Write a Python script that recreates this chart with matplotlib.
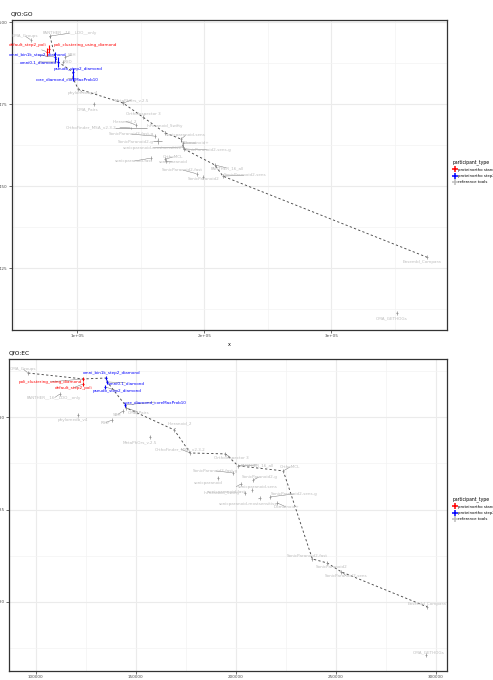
import matplotlib
matplotlib.use("Agg")
import matplotlib.pyplot as plt
from matplotlib.lines import Line2D
from matplotlib.ticker import MultipleLocator, FuncFormatter, FormatStrFormatter
import numpy as np

# ---------------- QfO:GO ----------------
go_names = [
    "OMA_Groups", "PANTHER__16__LDO__only", "default_step2_poli", "poli_clustering_using_diamond",
    "omni_bin1k_step2_diamond", "omni0.1_diamond", "SBH", "RSD", "pseudo_step2_diamond",
    "core_diamond_coreMaxProb10", "phylomedb_v4", "OMA_Pairs", "MetaPhOrs_v.2.5", "OrthoInspector 3",
    "Hieranoid_2", "OrthoFinder_MSA_v2.3.2", "InParanoid_Swifty", "SonicParanoid2-fast-g",
    "SonicParanoid2-g", "sonicparanoid-sens", "Domainoid+", "sonicparanoid-mostsensitive",
    "SonicParanoid2-sens-g", "OrthoMCL", "sonicparanoid", "sonicparanoid-fast", "PANTHER_16_all",
    "SonicParanoid2-fast", "SonicParanoid2", "SonicParanoid2-sens", "Ensembl_Compara", "OMA_GETHOGs",
]
go_x = [63500, 78500, 76100, 77700, 82400, 84800, 90300, 88700, 96600, 96600, 100600, 113100,
        136000, 151700, 146200, 142300, 169100, 161200, 163500, 181700, 183200, 183500, 184000,
        169100, 169800, 158000, 208400, 194300, 199000, 214700, 375400, 351700]
go_y = [0.4946, 0.4958, 0.4910, 0.4919, 0.4894, 0.4879, 0.4894, 0.4879, 0.4849, 0.4830, 0.4797,
        0.4751, 0.4754, 0.4711, 0.4687, 0.4678, 0.4663, 0.4653, 0.4638, 0.4644, 0.4632, 0.4620,
        0.4614, 0.4583, 0.4577, 0.4586, 0.4565, 0.4538, 0.4528, 0.4531, 0.4284, 0.4114]
go_xerr = [800, 800, 600, 600, 600, 600, 800, 800, 600, 600, 800, 800, 800, 800, 800, 12600, 800,
           800, 3500, 800, 800, 800, 800, 800, 800, 800, 800, 800, 800, 800, 800, 800]
go_yerr = [0.0006, 0.0006, 0.0013, 0.0012, 0.0014, 0.0014, 0.0006, 0.0006, 0.0012, 0.0010, 0.0006,
           0.0006, 0.0006, 0.0006, 0.0006, 0.0004, 0.0006, 0.0006, 0.0008, 0.0006, 0.0006, 0.0006,
           0.0006, 0.0006, 0.0006, 0.0006, 0.0006, 0.0006, 0.0006, 0.0006, 0.0006, 0.0006]
go_frontier = ["PANTHER__16__LDO__only", "omni_bin1k_step2_diamond", "omni0.1_diamond",
               "pseudo_step2_diamond", "core_diamond_coreMaxProb10", "phylomedb_v4", "MetaPhOrs_v.2.5",
               "OrthoInspector 3", "InParanoid_Swifty", "sonicparanoid-sens", "SonicParanoid2-sens-g",
               "PANTHER_16_all", "SonicParanoid2-sens", "Ensembl_Compara"]

# ---------------- QfO:EC ----------------
ec_names = [
    "OMA_Groups", "poli_clustering_using_diamond", "default_step2_poli", "omni_bin1k_step2_diamond",
    "omni0.1_diamond", "pseudo_step2_diamond", "core_diamond_coreMaxProb10", "PANTHER__16__LDO__only",
    "phylomedb_v4", "SBH", "RSD", "OMA_Pairs", "Hieranoid_2", "MetaPhOrs_v.2.5",
    "OrthoFinder_MSA_v2.3.2", "OrthoInspector 3", "PANTHER_16_all", "OrthoMCL",
    "SonicParanoid2-fast-g", "sonicparanoid", "SonicParanoid2-g", "sonicparanoid-fast",
    "sonicparanoid-sens", "InParanoid_Swifty", "SonicParanoid2-sens-g", "sonicparanoid-mostsensitive",
    "Domainoid+", "SonicParanoid2-fast", "SonicParanoid2", "SonicParanoid2-sens", "Ensembl_Compara",
    "OMA_GETHOGs",
]
ec_x = [96200, 123700, 123700, 135200, 135700, 134700, 144700, 112200, 121200, 143700, 138200,
        145200, 169200, 157200, 177200, 194700, 201200, 223700, 198700, 191200, 208700, 202700,
        208200, 204700, 217200, 212200, 220700, 238200, 245700, 252700, 295700, 295200]
ec_y = [0.9240, 0.9208, 0.9181, 0.9213, 0.9192, 0.9165, 0.9067, 0.9127, 0.9013, 0.9035, 0.8986,
        0.9051, 0.8932, 0.8894, 0.8807, 0.8802, 0.8737, 0.8710, 0.8699, 0.8672, 0.8661, 0.8640,
        0.8607, 0.8590, 0.8569, 0.8563, 0.8536, 0.8233, 0.8211, 0.8163, 0.7973, 0.7713]
ec_xerr = [500] * len(ec_names)
ec_yerr = [0.0010] * len(ec_names)
ec_frontier = ["OMA_Groups", "poli_clustering_using_diamond", "omni_bin1k_step2_diamond",
               "omni0.1_diamond", "core_diamond_coreMaxProb10", "OMA_Pairs", "Hieranoid_2",
               "OrthoFinder_MSA_v2.3.2", "OrthoInspector 3", "PANTHER_16_all", "OrthoMCL",
               "SonicParanoid2-fast", "SonicParanoid2", "SonicParanoid2-sens", "Ensembl_Compara"]

participant_types = ["proteinortho standard", "proteinortho step2", "reference tools"]
type_of = {
    "default_step2_poli": 0, "poli_clustering_using_diamond": 0,
    "omni_bin1k_step2_diamond": 1, "omni0.1_diamond": 1, "pseudo_step2_diamond": 1,
    "core_diamond_coreMaxProb10": 1,
}

# label offsets from each point (pixels, y downward)
go_label_off = {
    "OMA_Groups": (-6, -4), "PANTHER__16__LDO__only": (20, -3), "default_step2_poli": (-19, -7),
    "poli_clustering_using_diamond": (36, -4), "omni_bin1k_step2_diamond": (-17, -2),
    "omni0.1_diamond": (-20, 0), "SBH": (7, -2), "RSD": (5, 0), "pseudo_step2_diamond": (5, -3),
    "core_diamond_coreMaxProb10": (-6, 1), "phylomedb_v4": (5, 4), "OMA_Pairs": (-6, 5),
    "MetaPhOrs_v.2.5": (9, -3), "OrthoInspector 3": (0, -3), "Hieranoid_2": (-11, -4),
    "OrthoFinder_MSA_v2.3.2": (-40, -1), "InParanoid_Swifty": (0, -7),
    "SonicParanoid2-fast-g": (-24, -2), "SonicParanoid2-g": (-22, 1), "sonicparanoid-sens": (5, -4),
    "Domainoid+": (14, 0), "sonicparanoid-mostsensitive": (-31, 1), "SonicParanoid2-sens-g": (24, 1),
    "OrthoMCL": (8, -2), "sonicparanoid": (7, 1), "sonicparanoid-fast": (-17, 3),
    "PANTHER_16_all": (12, 3), "SonicParanoid2-fast": (-15, -4), "SonicParanoid2": (1, 2),
    "SonicParanoid2-sens": (22, -1), "Ensembl_Compara": (-5, 5), "OMA_GETHOGs": (-5, 5),
}
ec_label_off = {
    "OMA_Groups": (-5, -4), "poli_clustering_using_diamond": (-33, 3), "default_step2_poli": (-10, 4),
    "omni_bin1k_step2_diamond": (5, -5), "omni0.1_diamond": (19, 1), "pseudo_step2_diamond": (12, 4),
    "core_diamond_coreMaxProb10": (30, -3), "PANTHER__16__LDO__only": (-6, 4), "phylomedb_v4": (-5, 5),
    "SBH": (-6, 4), "RSD": (-7, 3), "OMA_Pairs": (12, 4), "Hieranoid_2": (6, -7),
    "MetaPhOrs_v.2.5": (-10, 5), "OrthoFinder_MSA_v2.3.2": (-10, -4), "OrthoInspector 3": (6, 4),
    "PANTHER_16_all": (19, -1), "OrthoMCL": (7, -4), "SonicParanoid2-fast-g": (-18, -2),
    "sonicparanoid": (-10, 5), "SonicParanoid2-g": (6, -3), "sonicparanoid-fast": (-14, 8),
    "sonicparanoid-sens": (5, -3), "InParanoid_Swifty": (-23, 0), "SonicParanoid2-sens-g": (24, -3),
    "sonicparanoid-mostsensitive": (-12, 6), "Domainoid+": (9, 4), "SonicParanoid2-fast": (-5, -3),
    "SonicParanoid2": (4, 4), "SonicParanoid2-sens": (5, 4), "Ensembl_Compara": (0, -3),
    "OMA_GETHOGs": (2, -3),
}

point_colors = ["#FF0000", "#0000FF", "#8C8C8C"]
label_colors = ["#FF0000", "#0000FF", "#BDBDBD"]

W, H = 493, 680
fig = plt.figure(figsize=(W / 100, H / 100), dpi=100)
PX2PT = 72 / 100


def axes_px(left, top, right, bottom):
    return fig.add_axes([left / W, 1 - bottom / H, (right - left) / W, (bottom - top) / H])


def draw_panel(ax, title, names, xs, ys, xerr, yerr, frontier, offsets):
    ax.set_facecolor("white")
    for s in ax.spines.values():
        s.set_color("#333333")
        s.set_linewidth(0.9)
    ax.grid(True, which="major", color="#EBEBEB", lw=0.8)
    ax.grid(True, which="minor", color="#F3F3F3", lw=0.5)
    ax.set_axisbelow(True)
    ax.tick_params(which="major", length=2, width=0.5, color="#333333", labelsize=3,
                   labelcolor="#4D4D4D", pad=1)
    ax.tick_params(which="minor", length=0)
    ax.set_title(title, loc="left", fontsize=4.2, pad=3, x=-0.002)

    idx = {n: i for i, n in enumerate(names)}
    fx = [xs[idx[n]] for n in frontier]
    fy = [ys[idx[n]] for n in frontier]
    ax.plot(fx, fy, ls=(0, (2.5, 2.5)), color="#4A4A4A", lw=0.65, zorder=2)

    for i, n in enumerate(names):
        t = type_of.get(n, 2)
        ax.errorbar(xs[i], ys[i], xerr=xerr[i], yerr=yerr[i], fmt="none",
                    ecolor=point_colors[t], elinewidth=0.8 if t < 2 else 0.5, capsize=0, zorder=4)
        dx, dy = offsets[n]
        far = (dx * dx + dy * dy) ** 0.5 > 6
        ax.annotate(n, xy=(xs[i], ys[i]), xytext=(dx * PX2PT, -dy * PX2PT),
                    textcoords="offset points", ha="center", va="center", fontsize=3,
                    color=label_colors[t], zorder=5,
                    arrowprops=dict(arrowstyle="-", color="#666666", lw=0.3,
                                    shrinkA=0.5, shrinkB=0.5) if far else None)


ax1 = axes_px(11.7, 20, 446.7, 330)
draw_panel(ax1, "QfO:GO", go_names, go_x, go_y, go_xerr, go_yerr, go_frontier, go_label_off)
ax1.set_xlim(48300, 391000)
ax1.set_ylim(0.4062, 0.5007)
ax1.xaxis.set_major_locator(MultipleLocator(100000))
ax1.xaxis.set_minor_locator(MultipleLocator(50000))
ax1.yaxis.set_major_locator(MultipleLocator(0.025))
ax1.yaxis.set_minor_locator(MultipleLocator(0.0125))
ax1.xaxis.set_major_formatter(FuncFormatter(lambda v, p: f"{v:.0e}"))
ax1.yaxis.set_major_formatter(FormatStrFormatter("%.3f"))
ax1.set_xlabel("x", fontsize=3.5, labelpad=3)

ax2 = axes_px(9.3, 359, 446.7, 671)
draw_panel(ax2, "QfO:EC", ec_names, ec_x, ec_y, ec_xerr, ec_yerr, ec_frontier, ec_label_off)
ax2.set_xlim(86800, 305350)
ax2.set_ylim(0.7626, 0.9316)
ax2.xaxis.set_major_locator(MultipleLocator(50000))
ax2.xaxis.set_minor_locator(MultipleLocator(25000))
ax2.yaxis.set_major_locator(MultipleLocator(0.05))
ax2.yaxis.set_minor_locator(MultipleLocator(0.025))
ax2.xaxis.set_major_formatter(FuncFormatter(lambda v, p: f"{int(round(v))}"))
ax2.yaxis.set_major_formatter(FormatStrFormatter("%.2f"))

handles = [Line2D([], [], ls="none", marker="+", markersize=5, mew=1.1, color=c)
           for c in point_colors]
handles[2].set_color("#BDBDBD")
for ytop in (157, 494):
    fig.legend(handles, participant_types, title="participant_type", loc="upper left",
               bbox_to_anchor=(450 / W, 1 - ytop / H), frameon=False, fontsize=2.8,
               title_fontsize=3.3, handlelength=1.0, handletextpad=0.4, labelspacing=0.6,
               borderpad=0.2, alignment="left")

fig.savefig("out.png", dpi=100)
